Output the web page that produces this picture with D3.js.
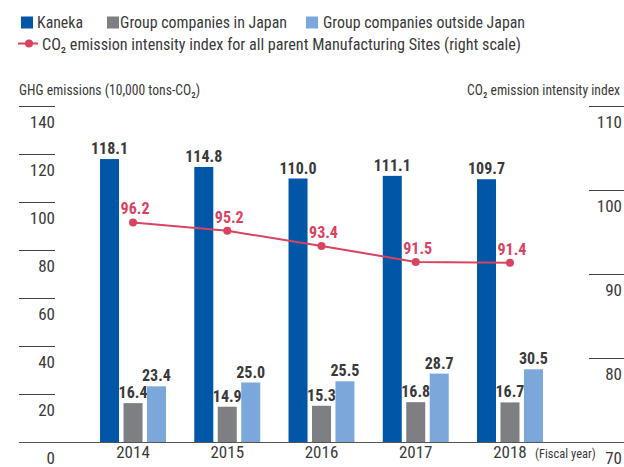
<!DOCTYPE html>
<html><head><meta charset="utf-8">
<script src="https://cdn.jsdelivr.net/npm/d3@7"></script>
<style>
html,body{margin:0;padding:0;background:#fff;}
svg{display:block;}
text{font-family:"Liberation Sans Narrow","Roboto Condensed","DejaVu Sans Condensed",sans-serif;}
</style></head>
<body>
<svg id="chart" width="624" height="467"></svg>
<script>
const years = ["2014","2015","2016","2017","2018"];
const kaneka = [118.1,114.8,110.0,111.1,109.7];
const groupJapan = [16.4,14.9,15.3,16.8,16.7];
const groupOutside = [23.4,25.0,25.5,28.7,30.5];
const intensity = [96.2,95.2,93.4,91.5,91.4];
const leftTicks = [0,20,40,60,80,100,120,140];
const rightTicks = [70,80,90,100,110];
const seriesNames = ["Kaneka","Group companies in Japan","Group companies outside Japan"];
const lineName = "CO\u2082 emission intensity index for all parent Manufacturing Sites (right scale)";

const colors = ["#0057a8","#7e7f83","#7ba7db"];
const lineColor = "#d9435f";
const textColor = "#3a3a3a";

const svg = d3.select("#chart");

function fitText(sel, w){
  sel.each(function(){
    const len = this.getComputedTextLength();
    if (Math.abs(len-w) > 1) { d3.select(this).attr("textLength", w).attr("lengthAdjust","spacingAndGlyphs"); }
  });
}

const yL = d3.scaleLinear().domain([0,140]).range([442.5,106.5]);
const yR = d3.scaleLinear().domain([70,110]).range([442.5,106.5]);
const x0 = d3.scaleBand().domain(years).range([85.9,557.1]).paddingInner(0.3).paddingOuter(0.15);
const x1 = d3.scaleBand().domain([0,1,2]).range([0,x0.bandwidth()]).paddingInner(0.19).paddingOuter(0);

// left axis ticks
const lt = svg.append("g");
leftTicks.forEach(t=>{
  if (t>0) lt.append("line").attr("x1",19).attr("x2",55).attr("y1",yL(t)).attr("y2",yL(t)).attr("stroke","#444").attr("stroke-width",1);
  lt.append("text").attr("x",55).attr("y",yL(t)+21).attr("text-anchor","end").attr("font-size",17).attr("fill",textColor).text(t);
});
// right axis ticks
const rt = svg.append("g");
rightTicks.forEach(t=>{
  if (t>70) rt.append("line").attr("x1",589).attr("x2",624).attr("y1",yR(t)).attr("y2",yR(t)).attr("stroke","#444").attr("stroke-width",1);
  rt.append("text").attr("x",622).attr("y",yR(t)+21).attr("text-anchor","end").attr("font-size",17).attr("fill",textColor).text(t);
});

// bars
const allSeries = [kaneka, groupJapan, groupOutside];
const bars = svg.append("g");
allSeries.forEach((vals,si)=>{
  vals.forEach((v,i)=>{
    const x = x0(years[i]) + x1(si);
    bars.append("rect").attr("x",x).attr("y",yL(v)).attr("width",x1.bandwidth()).attr("height",yL(0)-yL(v)).attr("fill",colors[si]);
    bars.append("text").attr("x",x + x1.bandwidth()/2).attr("y",yL(v)-5).attr("text-anchor","middle")
      .attr("font-size",16).attr("font-weight","bold").attr("fill",textColor).text(v.toFixed(1));
  });
});

// baseline
svg.append("line").attr("x1",19).attr("x2",624).attr("y1",yL(0)).attr("y2",yL(0)).attr("stroke","#555").attr("stroke-width",1.2);

// line
const lx = i => x0(years[i]) + x1(1) + x1.bandwidth()/2;
const line = d3.line().x((d,i)=>lx(i)).y(d=>yR(d));
svg.append("path").datum(intensity).attr("d",line).attr("fill","none").attr("stroke",lineColor).attr("stroke-width",2);
intensity.forEach((v,i)=>{
  svg.append("circle").attr("cx",lx(i)).attr("cy",yR(v)).attr("r",4).attr("fill",lineColor);
  svg.append("text").attr("x",lx(i)+2).attr("y",yR(v)-8).attr("text-anchor","middle").attr("font-size",16)
    .attr("font-weight","bold").attr("fill",lineColor).text(v.toFixed(1));
});

// year labels
years.forEach(y=>{
  svg.append("text").attr("x",x0(y)+x0.bandwidth()/2).attr("y",458).attr("text-anchor","middle").attr("font-size",17).attr("fill",textColor).text(y);
});
svg.append("text").attr("x",535).attr("y",458).attr("font-size",12.5).attr("fill",textColor).text("(Fiscal year)").call(fitText,61);

// axis titles
svg.append("text").attr("x",19).attr("y",95).attr("font-size",15).attr("fill",textColor)
  .text("GHG emissions (10,000 tons-CO\u2082)").call(fitText,181);
svg.append("text").attr("x",467).attr("y",95).attr("font-size",14).attr("fill",textColor)
  .text("CO\u2082 emission intensity index").call(fitText,153);

// legend
const leg = svg.append("g");
const legPos = [{sx:21,tx:37,w:46},{sx:107,tx:120,w:167},{sx:306,tx:323,w:202}];
seriesNames.forEach((n,i)=>{
  leg.append("rect").attr("x",legPos[i].sx).attr("y",16.5).attr("width",12).attr("height",12).attr("fill",colors[i]);
  leg.append("text").attr("x",legPos[i].tx).attr("y",28).attr("font-size",16.5).attr("fill",textColor).text(n).call(fitText,legPos[i].w);
});
leg.append("line").attr("x1",18).attr("x2",38).attr("y1",43.5).attr("y2",43.5).attr("stroke",lineColor).attr("stroke-width",2);
leg.append("circle").attr("cx",29).attr("cy",43.5).attr("r",4).attr("fill",lineColor);
leg.append("text").attr("x",42).attr("y",49.5).attr("font-size",16.5).attr("fill",textColor).text(lineName).call(fitText,479);
</script>
</body></html>
